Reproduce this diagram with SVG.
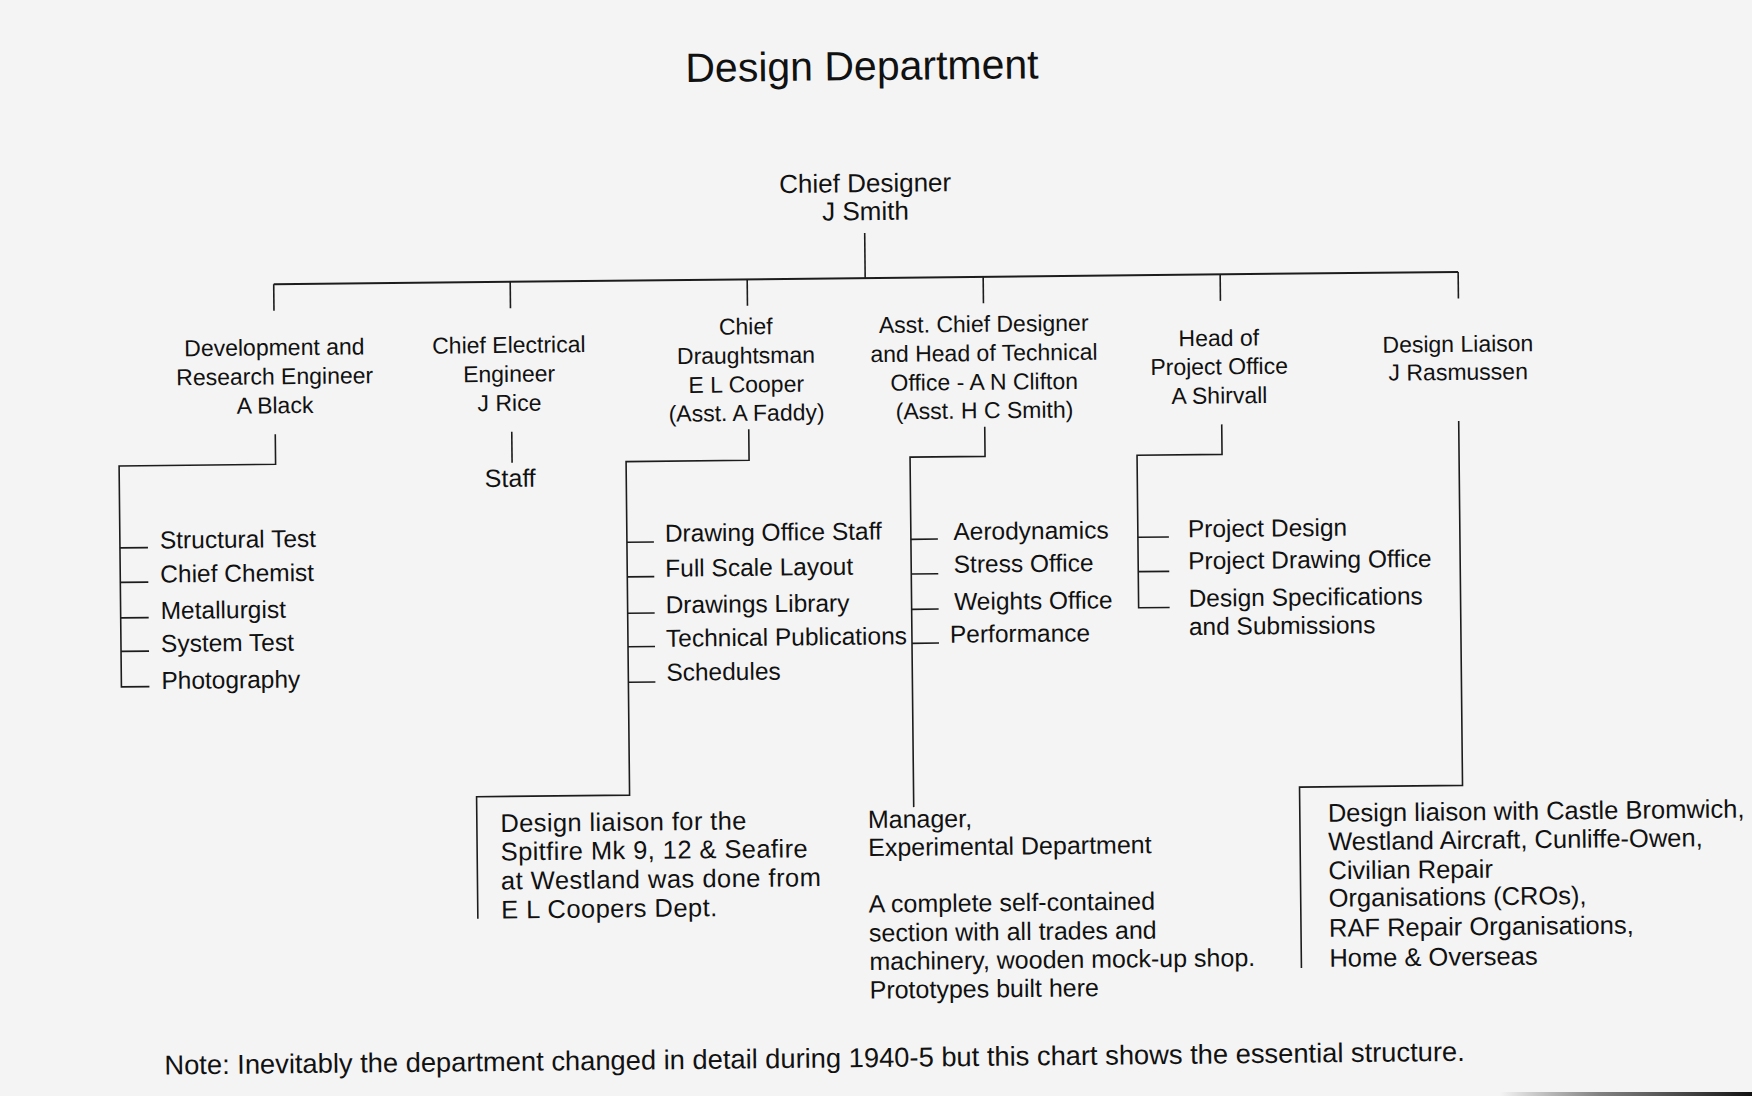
<svg xmlns="http://www.w3.org/2000/svg" width="1752" height="1096" viewBox="0 0 1752 1096">
  <defs>
    <style>
      text { font-family: "Liberation Sans", Arial, Helvetica, sans-serif; fill: #111; }
      .title { font-size: 41px; text-anchor: middle; }
      .chief { font-size: 26px; text-anchor: middle; }
      .node { font-size: 23px; text-anchor: middle; }
      .item { font-size: 24.5px; }
      .staff { font-size: 25px; text-anchor: middle; }
      .desc { font-size: 25.5px; }
      .desc25 { font-size: 25px; }
      .note { font-size: 27.3px; }
      .conn path, .conn line { fill: none; stroke: #1c1c1c; stroke-width: 1.6; }
      .conn .bus { stroke-width: 2; }
    </style>
    <linearGradient id="edge" x1="0" y1="0" x2="1" y2="0">
      <stop offset="0" stop-color="#222" stop-opacity="0"/>
      <stop offset="0.4" stop-color="#333" stop-opacity="0.6"/>
      <stop offset="1" stop-color="#111" stop-opacity="1"/>
    </linearGradient>
  </defs>
  <rect x="0" y="0" width="1752" height="1096" fill="#f4f4f4"/>
  <rect x="1500" y="1092" width="252" height="4" fill="url(#edge)"/>

  <g transform="rotate(-0.6 876 548)">
    <g id="title">
      <text class="title" x="867" y="80">Design Department</text>
    </g>

    <g id="chief-designer">
      <text class="chief" x="869" y="192">Chief Designer</text>
      <text class="chief" x="869" y="220">J Smith</text>
    </g>

    <g id="dev-research">
      <text class="node" x="276.5" y="349">Development and</text>
      <text class="node" x="276.5" y="378">Research Engineer</text>
      <text class="node" x="276.5" y="407">A Black</text>
    </g>
    <g id="dev-items">
      <text class="item" x="160" y="541">Structural Test</text>
      <text class="item" x="160" y="575">Chief Chemist</text>
      <text class="item" x="160" y="611.5">Metallurgist</text>
      <text class="item" x="160" y="644.5">System Test</text>
      <text class="item" x="160" y="681.5">Photography</text>
    </g>

    <g id="chief-electrical">
      <text class="node" x="511" y="349">Chief Electrical</text>
      <text class="node" x="511" y="378">Engineer</text>
      <text class="node" x="511" y="407">J Rice</text>
    </g>
    <g id="staff">
      <text class="staff" x="511" y="483">Staff</text>
    </g>

    <g id="chief-draughtsman">
      <text class="node" x="748" y="333">Chief</text>
      <text class="node" x="748" y="362">Draughtsman</text>
      <text class="node" x="748" y="391">E L Cooper</text>
      <text class="node" x="748" y="419.5">(Asst. A Faddy)</text>
    </g>
    <g id="draughtsman-items">
      <text class="item" x="665" y="539.5">Drawing Office Staff</text>
      <text class="item" x="665" y="574.5">Full Scale Layout</text>
      <text class="item" x="665" y="611">Drawings Library</text>
      <text class="item" x="665" y="644.5">Technical Publications</text>
      <text class="item" x="665" y="678.5">Schedules</text>
    </g>
    <g id="spitfire-liaison">
      <text class="desc" x="497.5" y="828" textLength="246">Design liaison for the</text>
      <text class="desc" x="497.5" y="856.5" textLength="307">Spitfire Mk 9, 12 &amp; Seafire</text>
      <text class="desc" x="497.5" y="885.5" textLength="320">at Westland was done from</text>
      <text class="desc" x="497.5" y="914.5" textLength="216">E L Coopers Dept.</text>
    </g>

    <g id="asst-chief-designer">
      <text class="node" x="986" y="333">Asst. Chief Designer</text>
      <text class="node" x="986" y="362">and Head of Technical</text>
      <text class="node" x="986" y="391">Office - A N Clifton</text>
      <text class="node" x="986" y="419.5">(Asst. H C Smith)</text>
    </g>
    <g id="technical-items">
      <text class="item" x="953.5" y="540.8">Aerodynamics</text>
      <text class="item" x="953.5" y="573.5">Stress Office</text>
      <text class="item" x="953.5" y="610.8">Weights Office</text>
      <text class="item" x="949" y="643.5">Performance</text>
    </g>
    <g id="experimental">
      <text class="desc25" x="865" y="828">Manager,</text>
      <text class="desc25" x="865" y="856">Experimental Department</text>
      <text class="desc25" x="865" y="912.5">A complete self-contained</text>
      <text class="desc25" x="865" y="941.5">section with all trades and</text>
      <text class="desc25" x="865" y="970">machinery, wooden mock-up shop.</text>
      <text class="desc25" x="865" y="998.5">Prototypes built here</text>
    </g>

    <g id="project-office">
      <text class="node" x="1221" y="349.5">Head of</text>
      <text class="node" x="1221" y="378">Project Office</text>
      <text class="node" x="1221" y="407">A Shirvall</text>
    </g>
    <g id="project-items">
      <text class="item" x="1188" y="540.6">Project Design</text>
      <text class="item" x="1188" y="572.6">Project Drawing Office</text>
      <text class="item" x="1188" y="610">Design Specifications</text>
      <text class="item" x="1188" y="638.3">and Submissions</text>
    </g>

    <g id="design-liaison">
      <text class="node" x="1460" y="358">Design Liaison</text>
      <text class="node" x="1460" y="386">J Rasmussen</text>
    </g>
    <g id="liaison-detail">
      <text class="desc" x="1325" y="826.5">Design liaison with Castle Bromwich,</text>
      <text class="desc" x="1325" y="855">Westland Aircraft, Cunliffe-Owen,</text>
      <text class="desc" x="1325" y="884">Civilian Repair</text>
      <text class="desc" x="1325" y="911.5">Organisations (CROs),</text>
      <text class="desc" x="1325" y="941.5">RAF Repair Organisations,</text>
      <text class="desc" x="1325" y="971.5">Home &amp; Overseas</text>
    </g>

    <g id="note">
      <text class="note" x="159" y="1067">Note: Inevitably the department changed in detail during 1940-5 but this chart shows the essential structure.</text>
    </g>

    <g id="connectors" class="conn">
      <line x1="868" y1="233" x2="868" y2="278"/>
      <line class="bus" x1="276.5" y1="278" x2="1461" y2="278"/>
      <line x1="276.5" y1="278" x2="276.5" y2="304.5"/>
      <line x1="513" y1="278" x2="513" y2="304.5"/>
      <line x1="750" y1="278" x2="750" y2="304.5"/>
      <line x1="986" y1="278" x2="986" y2="304.5"/>
      <line x1="1223" y1="278" x2="1223" y2="304.5"/>
      <line x1="1461" y1="278" x2="1461" y2="304.5"/>

      <path d="M276.5 428 V458 H120 V679 H148"/>
      <path d="M120 540 H148 M120 574.5 H148 M120 610 H148 M120 643.5 H148"/>

      <line x1="513" y1="428" x2="513" y2="459"/>

      <path d="M750 428 V459 H627 V792.5 H474 V914.5"/>
      <path d="M627 539.7 H654 M627 574.3 H654 M627 610.7 H654 M627 644.2 H654 M627 679.7 H654"/>

      <path d="M986 428 V457.5 H911 V807.5"/>
      <path d="M911 539.7 H938 M911 574.4 H938 M911 609.7 H938 M911 643.7 H938"/>

      <path d="M1223 428 V458 H1138 V610.5 H1169"/>
      <path d="M1138 540 H1169 M1138 574.4 H1169"/>

      <path d="M1460 427 V791.5 H1297 V972.5"/>
    </g>
  </g>
</svg>
